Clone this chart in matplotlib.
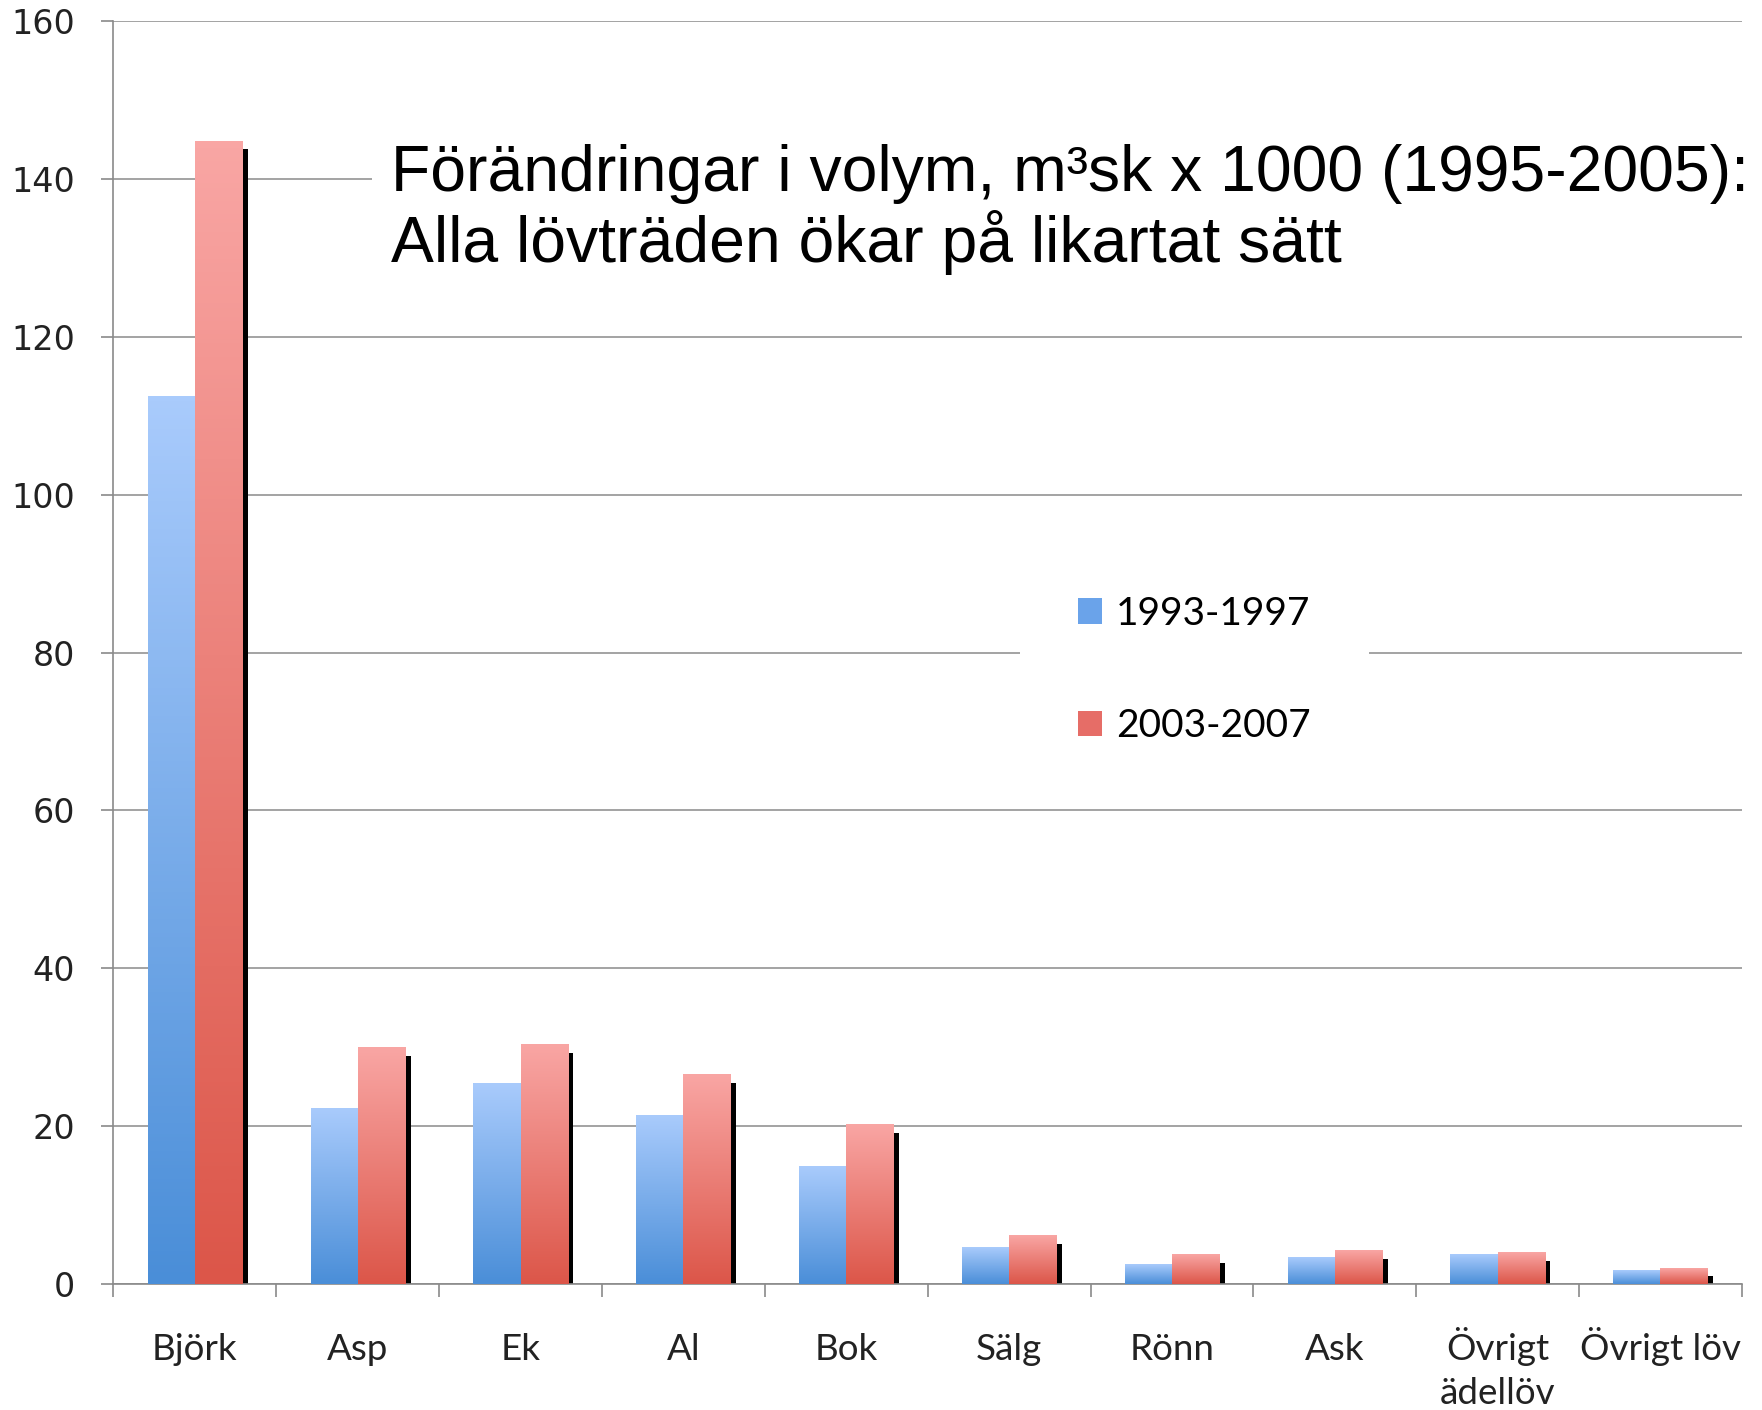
import matplotlib
matplotlib.use('Agg')
import matplotlib.pyplot as plt
import matplotlib.patheffects as pe
from matplotlib.colors import LinearSegmentedColormap
from matplotlib.patches import Patch
import numpy as np

# values (volume change, m3sk x 1000)
categories = ['Björk', 'Asp', 'Ek', 'Al', 'Bok', 'Sälg', 'Rönn', 'Ask',
              'Övrigt\nädellöv', 'Övrigt löv']
vol_1993_1997 = [112.5, 22.2, 25.4, 21.4, 14.9, 4.6, 2.5, 3.3, 3.7, 1.7]
vol_2003_2007 = [144.8, 30.0, 30.3, 26.5, 20.2, 6.1, 3.7, 4.2, 4.0, 2.0]
series_labels = ['1993-1997', '2003-2007']
yticks = [0, 20, 40, 60, 80, 100, 120, 140, 160]
title_lines = ['Förändringar i volym, m³sk x 1000 (1995-2005):',
               'Alla lövträden ökar på likartat sätt']

fig = plt.figure(figsize=(17.62, 14.10), dpi=100)
ax = fig.add_axes([0.0644, 0.0894, 0.9242, 0.8956])

x = np.arange(len(categories))
w = 0.29
blue_cmap = LinearSegmentedColormap.from_list('blu', ['#4a8ed8', '#a9cbfc'])
red_cmap = LinearSegmentedColormap.from_list('rd', ['#dc5649', '#f9a6a4'])
grad = np.linspace(0, 1, 256).reshape(-1, 1)

blue_bars = ax.bar(x - w/2, vol_1993_1997, w, color='none', edgecolor='none', zorder=2)
red_bars = ax.bar(x + w/2, vol_2003_2007, w, color='none', edgecolor='none', zorder=2,
                  path_effects=[pe.SimplePatchShadow(offset=(4, -6), shadow_rgbFace='k', alpha=1.0),
                                pe.Normal()])

# vertical gradient fill for each bar
for bars, cmap in [(blue_bars, blue_cmap), (red_bars, red_cmap)]:
    for b in bars:
        bx = b.get_x()
        ax.imshow(grad, extent=[bx, bx + b.get_width(), 0, b.get_height()],
                  origin='lower', cmap=cmap, aspect='auto', zorder=3,
                  interpolation='bicubic')

ax.set_xlim(-0.5, len(categories) - 0.5)
ax.set_ylim(0, 160)

ax.yaxis.grid(True, color='#949494', lw=1.2)
ax.set_axisbelow(True)
for s in ['top', 'right']:
    ax.spines[s].set_visible(False)
for s in ['left', 'bottom']:
    ax.spines[s].set_color('#8a8a8a')
    ax.spines[s].set_linewidth(1.2)

ax.set_yticks(yticks)
ax.set_yticklabels([str(v) for v in yticks], family='DejaVu Sans', fontsize=24, color='#222222')

# first line of each category on the tick, any further line set just below it
first_lines = [c.split('\n')[0] for c in categories]
ax.set_xticks(x)
ax.set_xticklabels(first_lines, family='Lato', fontsize=26.5, color='#222222', va='baseline')
for xi, c in zip(x, categories):
    rest = c.split('\n')[1:]
    if rest:
        ax.annotate('\n'.join(rest), xy=(xi, 0), xycoords=('data', 'axes fraction'),
                    xytext=(0, -55 - 31.7), textcoords='offset points',
                    ha='center', va='baseline', family='Lato', fontsize=26.5,
                    color='#222222', annotation_clip=False)
ax.set_xticks(np.arange(-0.5, len(categories), 1), minor=True)
ax.tick_params(axis='x', which='major', length=0, pad=55)
ax.tick_params(axis='x', which='minor', length=9.5, color='#8a8a8a', width=1.2)
ax.tick_params(axis='y', length=8.6, pad=19, color='#8a8a8a', width=1.2)

fig.text(391/1762, 1 - 191/1410, title_lines[0], family='Liberation Sans', fontsize=46.3,
         va='baseline', ha='left',
         bbox=dict(boxstyle='square,pad=0.3', facecolor='white', edgecolor='none'))
fig.text(391/1762, 1 - 262/1410, title_lines[1], family='Liberation Sans', fontsize=46.3,
         va='baseline', ha='left')

handles = [Patch(facecolor='#6aa3ea'), Patch(facecolor='#e66d67')]
leg = fig.legend(handles, series_labels, loc='upper left', bbox_to_anchor=(0.5787, 0.6189),
                 prop={'family': 'Lato', 'size': 28}, frameon=True, framealpha=1,
                 handlelength=0.62, handleheight=0.62, handletextpad=0.35,
                 labelspacing=1.96, borderpad=1.5, borderaxespad=0, fancybox=False)
leg.get_frame().set_edgecolor('none')
leg.get_frame().set_facecolor('white')

fig.savefig('out.png', dpi=100)
